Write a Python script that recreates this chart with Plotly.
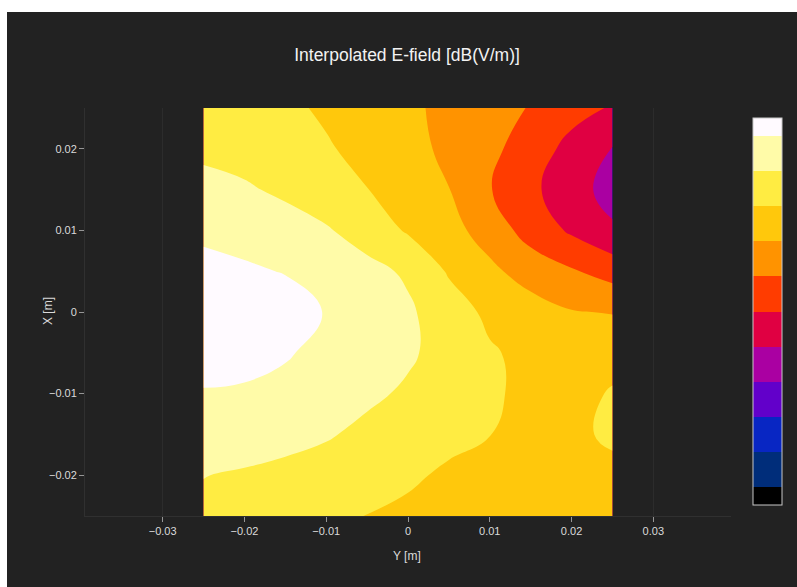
import plotly.graph_objects as go

# Horizontal axis: Y [m]; vertical axis: X [m]
y_pos = [-0.025, -0.02, -0.015, -0.01, -0.005, 0.0, 0.005, 0.01, 0.015, 0.02, 0.025]
x_pos = [0.025, 0.02, 0.015, 0.01, 0.005, 0.0, -0.005, -0.01, -0.015, -0.02, -0.025]

# Interpolated E-field [dB(V/m)], rows follow x_pos (top to bottom)
efield_db = [
    [119.6, 119.5, 119.2, 118.85, 118.5, 118.15, 117.8, 117.35, 116.95, 116.4, 115.9],
    [119.8, 119.7, 119.45, 119.1, 118.7, 118.3, 117.8, 117.2, 116.6, 115.65, 114.95],
    [120.3, 120.1, 119.85, 119.4, 119.02, 118.5, 118.02, 117.05, 116.2, 115.45, 114.6],
    [120.8, 120.6, 120.35, 120.1, 119.55, 118.9, 118.4, 117.5, 116.65, 115.85, 115.15],
    [121.3, 121.15, 120.95, 120.6, 120.3, 119.85, 118.9, 118.25, 117.5, 117.1, 116.6],
    [121.8, 121.7, 121.45, 120.95, 120.5, 120.15, 119.45, 118.8, 118.5, 118.05, 117.95],
    [121.6, 121.4, 121.1, 120.7, 120.4, 120.15, 119.6, 119.1, 118.75, 118.6, 118.8],
    [120.9, 120.85, 120.7, 120.45, 120.2, 119.85, 119.5, 119.15, 118.75, 118.8, 119.05],
    [120.5, 120.45, 120.3, 120.1, 119.75, 119.5, 119.25, 119.02, 118.6, 118.75, 119.2],
    [120.02, 119.9, 119.75, 119.55, 119.35, 119.15, 118.85, 118.6, 118.45, 118.5, 118.7],
    [119.8, 119.65, 119.45, 119.2, 118.98, 118.8, 118.6, 118.4, 118.3, 118.3, 118.4],
]

level_start = 111
level_end = 121
level_size = 1

band_colors = [
    "rgb(0,0,0)", "rgb(0,45,122)", "rgb(8,38,195)", "rgb(98,0,202)",
    "rgb(170,0,162)", "rgb(224,0,66)", "rgb(255,60,0)", "rgb(255,147,0)",
    "rgb(255,200,12)", "rgb(255,236,66)", "rgb(255,251,168)", "rgb(255,250,255)",
]

n = len(band_colors)
colorscale = []
for k, c in enumerate(band_colors):
    colorscale.append([k / n, c])
    colorscale.append([(k + 1) / n, c])

W, H = 797, 587
ML, MR, MT, MB = 85, 66, 108, 71
PW = W - ML - MR
PH = H - MT - MB
BG = "rgb(34,34,34)"
FONT = "Liberation Sans, Arial, sans-serif"
TXT = "rgb(218,218,218)"


def px_x(px):
    return (px - ML) / PW


def px_y(py):
    return (MT + PH - py) / PH


fig = go.Figure(
    go.Contour(
        x=y_pos,
        y=x_pos,
        z=efield_db,
        autocontour=False,
        contours=dict(start=level_start, end=level_end, size=level_size, coloring="fill"),
        colorscale=colorscale,
        line=dict(width=0, smoothing=1.3),
        colorbar=dict(
            x=px_x(753), xanchor="left", xpad=0,
            y=px_y(311.5), yanchor="middle", ypad=0,
            thickness=29, len=387, lenmode="pixels",
            showticklabels=False, ticks="",
            outlinewidth=1, outlinecolor="rgb(200,200,200)",
        ),
        hoverinfo="skip",
    )
)

axis_common = dict(
    ticks="outside", ticklen=5, tickcolor="rgb(150,150,150)", tickwidth=1,
    tickfont=dict(size=11, color=TXT, family=FONT),
    dtick=0.01, zeroline=False,
    showline=True, linecolor="rgb(48,48,48)", linewidth=1,
)

fig.update_layout(
    width=W, height=H,
    margin=dict(l=ML, r=MR, t=MT, b=MB),
    paper_bgcolor=BG, plot_bgcolor=BG,
    font=dict(family=FONT, color=TXT),
    title=dict(
        text="Interpolated E-field [dB(V/m)]",
        x=407 / W, xanchor="center", y=1 - 55 / H, yanchor="middle",
        font=dict(size=17.5, color="rgb(242,242,242)", family=FONT),
    ),
    xaxis=dict(
        range=[-0.0395, 0.0395],
        showgrid=True, gridcolor="rgb(44,44,44)", gridwidth=1,
        **axis_common,
    ),
    yaxis=dict(
        range=[-0.025, 0.025],
        showgrid=False,
        **axis_common,
    ),
    annotations=[
        dict(text="Y [m]", xref="paper", yref="paper", x=px_x(407), y=px_y(556),
             xanchor="center", yanchor="middle", showarrow=False,
             font=dict(size=12, color=TXT, family=FONT)),
        dict(text="X [m]", xref="paper", yref="paper", x=px_x(48), y=px_y(311),
             xanchor="center", yanchor="middle", showarrow=False, textangle=-90,
             font=dict(size=12, color=TXT, family=FONT)),
    ],
    shapes=[
        dict(type="rect", xref="paper", yref="paper", layer="above",
             x0=px_x(0), x1=px_x(W), y0=px_y(12), y1=px_y(0),
             fillcolor="white", line=dict(width=0)),
        dict(type="rect", xref="paper", yref="paper", layer="above",
             x0=px_x(0), x1=px_x(7), y0=px_y(H), y1=px_y(0),
             fillcolor="white", line=dict(width=0)),
    ],
)

fig.write_html("out.html")
